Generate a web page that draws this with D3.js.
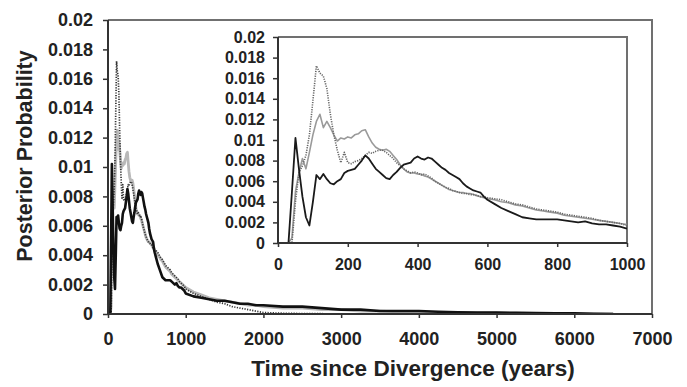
<!DOCTYPE html>
<html>
<head>
<meta charset="utf-8">
<script src="https://cdn.jsdelivr.net/npm/d3@7"></script>
<style>
  html, body { margin: 0; padding: 0; background: #fff; }
  svg { display: block; }
  text { font-family: "Liberation Sans", Arial, sans-serif; font-weight: bold; fill: #222; }
</style>
</head>
<body>
<svg id="chart" width="687" height="387"></svg>
<script>
// ---- data (years since divergence, posterior probability) ----
const years = [
  0,10,20,30,40,50,60,70,80,90,
  100,110,120,130,140,150,160,170,180,190,
  200,210,220,230,240,250,260,270,280,290,
  300,310,320,330,340,350,360,370,380,390,
  400,410,420,430,440,450,460,470,480,490,
  500,510,520,530,540,550,560,570,580,590,
  600,620,640,660,680,700,720,740,760,780,
  800,820,840,860,880,900,920,940,960,980,1000,
  1100,1200,1300,1400,1500,1600,1700,1800,1900,2000,
  2250,2500,2750,3000,3250,3500,3750,4000,4250,4500,
  4750,5000,5250,5500,5750,6000,6250,6500
];
const seriesBlack = [
  0,0,0,0,0.005,0.0102,0.0072,0.0045,0.0025,0.0017,
  0.004,0.0066,0.0062,0.0067,0.0062,0.0058,0.0057,0.006,0.0062,0.0068,
  0.007,0.0071,0.0072,0.0076,0.008,0.0085,0.0082,0.0077,0.0072,0.0069,
  0.0066,0.0063,0.0062,0.0066,0.0069,0.0073,0.0076,0.0077,0.0078,0.0082,
  0.0084,0.0082,0.0081,0.0083,0.0082,0.0079,0.0076,0.0073,0.0071,0.0068,
  0.0066,0.0064,0.0062,0.0058,0.0055,0.0053,0.0051,0.005,0.0049,0.0045,
  0.0042,0.0038,0.0034,0.0031,0.0028,0.0025,0.0024,0.0023,0.0023,0.0023,
  0.0023,0.0022,0.0021,0.002,0.0021,0.0019,0.0018,0.0018,0.0017,0.0016,0.0014,
  0.0012,0.0011,0.001,0.0009,0.0009,0.0008,0.0007,0.0007,0.0006,0.0006,
  0.0005,0.0005,0.0004,0.0003,0.0003,0.0002,0.0002,0.0002,0.00015,0.00012,
  0.0001,0.0001,0.00008,0.00006,0.00005,0.00004,0.00002,0
];
const seriesGray = [
  0,0,0,0,0.0005,0.005,0.0068,0.0082,0.0072,0.0088,
  0.0105,0.0118,0.0125,0.0112,0.0118,0.0112,0.0105,0.0099,0.0102,0.0101,
  0.0103,0.0102,0.0105,0.0106,0.0109,0.011,0.0103,0.0097,0.0093,0.0091,
  0.009,0.0091,0.0089,0.0085,0.0081,0.0076,0.0072,0.0069,0.0068,0.0068,
  0.0067,0.0067,0.0065,0.0064,0.0062,0.006,0.0058,0.0056,0.0054,0.0052,
  0.0051,0.005,0.0049,0.0049,0.0048,0.0048,0.0047,0.0046,0.0045,0.0044,
  0.0043,0.0042,0.004,0.0039,0.0037,0.0036,0.0034,0.0032,0.0031,0.003,
  0.0029,0.0027,0.0026,0.0025,0.0024,0.0023,0.0022,0.0021,0.002,0.0019,0.0018,
  0.0015,0.0013,0.0011,0.001,0.0009,0.0008,0.0007,0.0006,0.0006,0.0005,
  0.0004,0.0004,0.0003,0.0003,0.0002,0.0002,0.00015,0.00012,0.0001,0.0001,
  0.00008,0.00007,0.00005,0.00004,0.00003,0.00002,0.00001,0
];
const seriesDotted = [
  0,0,0,0,0,0.004,0.0068,0.0075,0.0085,0.0105,
  0.0138,0.0172,0.0165,0.0162,0.015,0.0125,0.0105,0.009,0.0078,0.0088,
  0.0078,0.0077,0.0079,0.008,0.0082,0.0085,0.0088,0.0087,0.0089,0.009,
  0.009,0.0088,0.0085,0.0082,0.0078,0.0075,0.0072,0.007,0.0068,0.0069,
  0.0068,0.0066,0.0067,0.0065,0.0063,0.006,0.0058,0.0056,0.0054,0.0053,
  0.0051,0.005,0.0049,0.0048,0.0048,0.0047,0.0047,0.0046,0.0045,0.0045,
  0.0044,0.0043,0.0042,0.004,0.0038,0.0037,0.0035,0.0033,0.0032,0.0031,
  0.003,0.0028,0.0027,0.0026,0.0025,0.0024,0.0022,0.0021,0.002,0.0019,0.0017,
  0.0014,0.0012,0.001,0.0008,0.0007,0.0005,0.0004,0.0003,0.0002,0.0001,
  0.00005,0.00003,0.00002,0,0,0,0,0,0,0,
  0,0,0,0,0,0,0,0
];
const mainXTicks = [0,1000,2000,3000,4000,5000,6000,7000];
const yTicks = [0,0.002,0.004,0.006,0.008,0.01,0.012,0.014,0.016,0.018,0.02];
const insetXTicks = [0,200,400,600,800,1000];
const xTitle = "Time since Divergence (years)";
const yTitle = "Posterior Probability";

// ---- drawing ----
const svg = d3.select("#chart");
const fmt = d => d3.format("~g")(+d.toFixed(4));

const series = [
  { values: seriesGray,   main: { stroke: "#b8b8b8", width: 2.8, dash: null },      inset: { stroke: "#9a9a9a", width: 1.6, dash: null } },
  { values: seriesDotted, main: { stroke: "#333",    width: 1.7, dash: "1.2,1.4" }, inset: { stroke: "#666",    width: 1.6, dash: "1.2,1.2" } },
  { values: seriesBlack,  main: { stroke: "#111",    width: 2.6, dash: null },      inset: { stroke: "#1a1a1a", width: 1.8, dash: null } }
];

function drawPanel(g, x, y, xTicks, opts) {
  const [x0, x1] = x.range();
  const [y0, y1] = y.range();
  // frame (top/right)
  g.append("path")
    .attr("d", `M${x0},${y1}H${x1}V${y0}`)
    .attr("fill", "none").attr("stroke", "#707070").attr("stroke-width", 2);

  const clipId = "clip" + opts.key;
  g.append("clipPath").attr("id", clipId)
    .append("rect").attr("x", x0).attr("y", y1 - 2).attr("width", x1 - x0).attr("height", y0 - y1 + 2);

  const xmax = x.domain()[1];
  series.forEach(s => {
    const st = s[opts.key];
    const pts = years.map((yr, i) => [yr, s.values[i]]).filter(p => p[0] <= xmax);
    const line = d3.line().x(p => x(p[0])).y(p => y(p[1]));
    g.append("path")
      .datum(pts)
      .attr("clip-path", `url(#${clipId})`)
      .attr("d", line)
      .attr("fill", "none")
      .attr("stroke", st.stroke)
      .attr("stroke-width", st.width)
      .attr("stroke-dasharray", st.dash)
      .attr("stroke-linejoin", "round");
  });

  const xAxis = g.append("g").attr("transform", `translate(0,${y0})`)
    .call(d3.axisBottom(x).tickValues(xTicks).tickFormat(d3.format("d")).tickSize(4).tickPadding(opts.xPad));
  const yAxis = g.append("g").attr("transform", `translate(${x0},0)`)
    .call(d3.axisLeft(y).tickValues(yTicks).tickFormat(fmt).tickSize(5).tickPadding(opts.yPad));
  [xAxis, yAxis].forEach(a => {
    a.select(".domain").attr("stroke", "#333").attr("stroke-width", 2);
    a.selectAll(".tick line").attr("stroke", "#333").attr("stroke-width", 1.5);
    a.selectAll(".tick text").attr("fill", "#222")
      .style("font-family", '"Liberation Sans", Arial, sans-serif')
      .style("font-weight", "bold")
      .style("font-size", opts.font + "px");
  });
  xAxis.select(".domain").attr("d", `M${x0},0H${x1}`);
  yAxis.select(".domain").attr("d", `M0,${y0}V${y1}`);
}

// main panel
const xMain = d3.scaleLinear().domain([0, 7000]).range([108, 652]);
const yMain = d3.scaleLinear().domain([0, 0.02]).range([314, 20]);
drawPanel(svg.append("g"), xMain, yMain, mainXTicks, { key: "main", font: 18, xPad: 14, yPad: 10 });

// inset panel
const xIn = d3.scaleLinear().domain([0, 1000]).range([278, 627]);
const yIn = d3.scaleLinear().domain([0, 0.02]).range([243, 37]);
drawPanel(svg.append("g"), xIn, yIn, insetXTicks, { key: "inset", font: 16, xPad: 12, yPad: 8 });

// axis titles
svg.append("text")
  .attr("x", 413).attr("y", 376)
  .attr("text-anchor", "middle")
  .style("font-size", "22.5px")
  .text(xTitle);
svg.append("text")
  .attr("transform", "translate(32,156) rotate(-90)")
  .attr("text-anchor", "middle")
  .style("font-size", "21.5px")
  .text(yTitle);
</script>
</body>
</html>
